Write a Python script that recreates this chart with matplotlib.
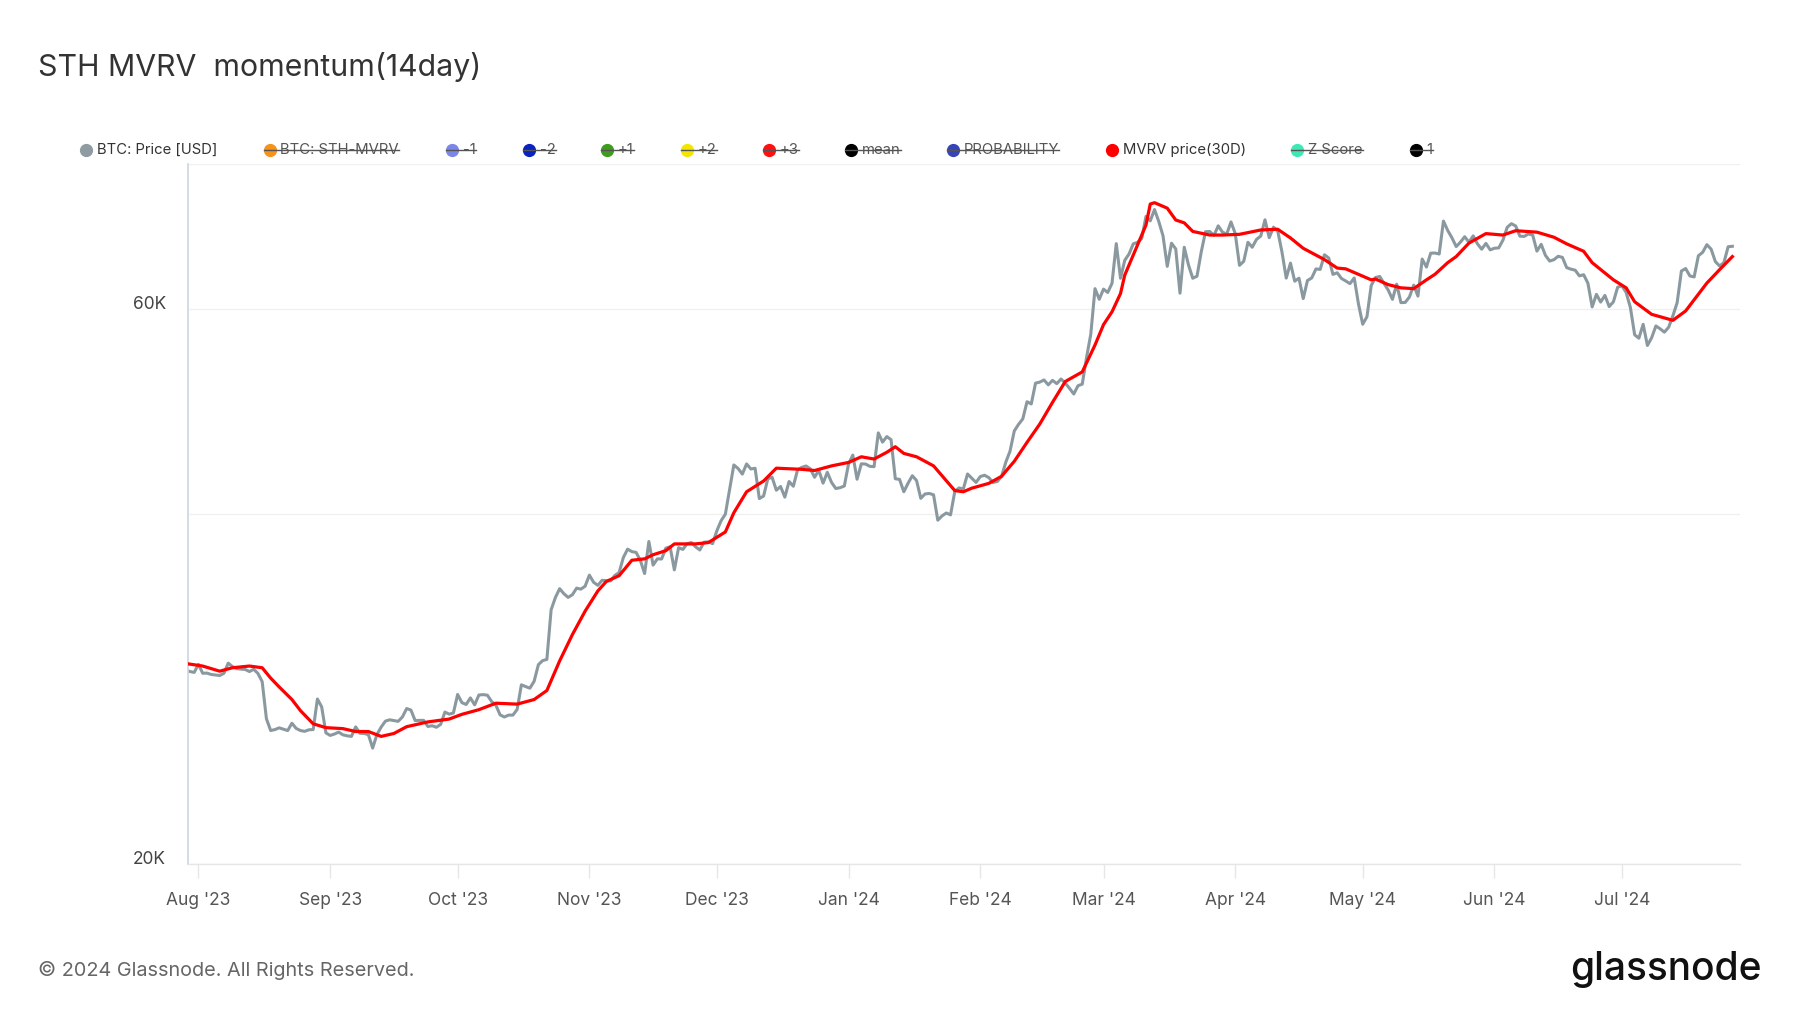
import matplotlib
matplotlib.use("Agg")
import matplotlib.pyplot as plt
import matplotlib.dates as mdates
from matplotlib.ticker import FixedLocator, FixedFormatter, NullLocator
from matplotlib.lines import Line2D
import pandas as pd

plt.rcParams['font.family'] = ['Inter', 'DejaVu Sans']

# ---------------- data (BTC price, thousands USD, daily) ----------------
price_jul23 = [29.35, 29.28, 29.23]
price_aug23 = [29.70, 29.18, 29.19, 29.11, 29.08, 29.05, 29.18, 29.77, 29.57, 29.45,
               29.42, 29.40, 29.28, 29.41, 29.17, 28.70, 26.66, 26.05, 26.10, 26.19,
               26.12, 26.05, 26.43, 26.16, 26.05, 26.01, 26.09, 26.10, 27.73, 27.30, 25.93]
price_sep23 = [25.80, 25.87, 25.97, 25.83, 25.78, 25.75, 26.24, 25.91, 25.90, 25.84,
               25.16, 25.84, 26.23, 26.54, 26.61, 26.57, 26.53, 26.76, 27.21, 27.13,
               26.57, 26.58, 26.58, 26.26, 26.30, 26.22, 26.37, 27.02, 26.91, 26.97]
price_oct23 = [27.98, 27.53, 27.43, 27.79, 27.41, 27.95, 27.97, 27.94, 27.59, 27.39,
               26.87, 26.76, 26.86, 26.86, 27.16, 28.52, 28.42, 28.33, 28.72, 29.68,
               29.92, 29.99, 33.09, 33.90, 34.50, 34.16, 33.91, 34.09, 34.54, 34.47, 34.67]
price_nov23 = [35.44, 34.94, 34.73, 35.08, 35.05, 35.04, 35.42, 35.62, 36.70, 37.31,
               37.13, 37.07, 36.49, 35.55, 37.88, 36.15, 36.60, 36.59, 37.39, 37.48,
               35.81, 37.42, 37.29, 37.72, 37.80, 37.48, 37.25, 37.83, 37.85, 37.72]
price_dec23 = [38.69, 39.47, 39.98, 41.98, 44.08, 43.77, 43.29, 44.17, 43.73, 43.79,
               41.24, 41.45, 42.89, 43.02, 41.93, 42.24, 41.36, 42.66, 42.26, 43.66,
               43.87, 43.99, 43.74, 43.02, 43.61, 42.52, 43.44, 42.58, 42.07, 42.14, 42.28]
price_jan24 = [44.18, 44.95, 42.85, 44.18, 44.16, 43.96, 43.93, 46.97, 46.12, 46.63,
               46.34, 42.89, 42.84, 41.80, 42.51, 43.15, 42.74, 41.26, 41.62, 41.66,
               41.55, 39.51, 39.85, 40.08, 39.93, 41.82, 42.12, 42.03, 43.30, 42.94, 42.58]
price_feb24 = [43.08, 43.19, 42.99, 42.58, 42.66, 43.08, 44.32, 45.30, 47.15, 47.77,
               48.29, 49.96, 49.74, 51.83, 51.94, 52.16, 51.66, 52.12, 51.78, 52.26,
               51.84, 51.30, 50.73, 51.57, 51.73, 54.52, 57.09, 62.50, 61.20]
price_mar24 = [62.44, 62.03, 63.17, 68.33, 63.80, 66.11, 66.93, 68.30, 68.50, 69.02,
               72.12, 71.48, 73.10, 71.40, 69.40, 65.32, 68.39, 67.61, 61.94, 67.84,
               65.50, 63.80, 64.06, 67.21, 69.96, 69.99, 69.46, 70.78, 69.89, 69.64, 71.33]
price_apr24 = [69.70, 65.45, 65.98, 68.51, 67.84, 68.90, 69.36, 71.63, 69.14, 70.59,
               70.06, 67.20, 63.82, 65.74, 63.43, 63.81, 61.28, 63.51, 63.84, 64.99,
               64.93, 66.84, 66.41, 64.29, 64.50, 63.77, 63.46, 63.12, 63.84, 60.64]
price_may24 = [58.25, 59.12, 62.89, 63.89, 64.03, 63.16, 62.33, 61.19, 63.05, 60.79,
               60.82, 61.48, 62.94, 61.58, 66.27, 65.23, 67.05, 67.07, 66.94, 71.45,
               70.14, 69.12, 67.93, 68.53, 69.27, 68.52, 69.39, 68.30, 67.58, 68.36, 67.49]
price_jun24 = [67.71, 67.75, 68.80, 70.57, 71.08, 70.76, 69.34, 69.31, 69.65, 69.51,
               67.32, 68.24, 66.76, 66.01, 66.19, 66.64, 66.49, 65.16, 64.96, 64.83,
               64.10, 64.25, 63.18, 60.28, 61.80, 60.86, 61.67, 60.32, 60.89, 62.68]
price_jul24 = [62.85, 62.03, 60.20, 57.04, 56.66, 58.24, 55.85, 56.71, 58.05, 57.72,
               57.34, 57.90, 59.23, 60.79, 64.72, 65.04, 64.09, 63.97, 66.71, 67.16,
               68.19, 67.58, 65.93, 65.37, 65.80, 67.91, 67.97]

price_k = (price_jul23 + price_aug23 + price_sep23 + price_oct23 + price_nov23 +
           price_dec23 + price_jan24 + price_feb24 + price_mar24 + price_apr24 +
           price_may24 + price_jun24 + price_jul24)
price_dates = pd.date_range('2023-07-29', periods=len(price_k), freq='D')

# MVRV price (30D) line, thousands USD
red_dates = ['2023-07-29', '2023-08-02', '2023-08-06', '2023-08-09', '2023-08-13', '2023-08-16',
             '2023-08-18', '2023-08-20', '2023-08-23', '2023-08-25', '2023-08-28', '2023-08-31',
             '2023-09-04', '2023-09-07', '2023-09-10', '2023-09-13', '2023-09-16', '2023-09-19',
             '2023-09-24', '2023-09-29', '2023-10-02', '2023-10-06', '2023-10-10', '2023-10-15',
             '2023-10-19', '2023-10-22', '2023-10-25', '2023-10-28', '2023-10-31', '2023-11-03',
             '2023-11-05', '2023-11-08', '2023-11-11', '2023-11-14', '2023-11-16', '2023-11-19',
             '2023-11-21', '2023-11-26', '2023-11-29', '2023-12-03', '2023-12-05', '2023-12-08',
             '2023-12-12', '2023-12-15', '2023-12-21', '2023-12-24', '2023-12-28', '2024-01-01',
             '2024-01-04', '2024-01-07', '2024-01-10', '2024-01-12', '2024-01-14', '2024-01-17',
             '2024-01-21', '2024-01-26', '2024-01-28', '2024-01-30', '2024-02-03', '2024-02-06',
             '2024-02-09', '2024-02-12', '2024-02-15', '2024-02-18', '2024-02-21', '2024-02-23',
             '2024-02-25', '2024-02-28', '2024-03-01', '2024-03-03', '2024-03-05', '2024-03-06',
             '2024-03-08', '2024-03-11', '2024-03-12', '2024-03-13', '2024-03-16', '2024-03-18',
             '2024-03-20', '2024-03-22', '2024-03-26', '2024-03-29', '2024-04-02', '2024-04-07',
             '2024-04-11', '2024-04-14', '2024-04-17', '2024-04-22', '2024-04-25', '2024-04-27',
             '2024-04-30', '2024-05-03', '2024-05-04', '2024-05-07', '2024-05-10', '2024-05-13',
             '2024-05-16', '2024-05-18', '2024-05-21', '2024-05-23', '2024-05-26', '2024-05-30',
             '2024-06-03', '2024-06-06', '2024-06-11', '2024-06-15', '2024-06-18', '2024-06-22',
             '2024-06-24', '2024-06-29', '2024-07-02', '2024-07-04', '2024-07-08', '2024-07-13',
             '2024-07-16', '2024-07-21', '2024-07-24', '2024-07-27']
red_k = [29.75, 29.6, 29.3, 29.5, 29.6, 29.5, 28.9, 28.4, 27.7, 27.1, 26.4, 26.2,
         26.15, 26.0, 26.0, 25.75, 25.9, 26.25, 26.5, 26.65, 26.9, 27.15, 27.5, 27.45,
         27.7, 28.2, 29.9, 31.5, 33.0, 34.35, 35.0, 35.4, 36.5, 36.6, 36.9, 37.2,
         37.7, 37.7, 37.8, 38.6, 40.1, 41.8, 42.7, 43.8, 43.7, 43.6, 44.0, 44.3,
         44.8, 44.6, 45.2, 45.7, 45.1, 44.8, 44.0, 41.9, 41.8, 42.1, 42.5, 43.1,
         44.4, 46.1, 47.8, 49.9, 52.0, 52.5, 53.0, 55.9, 58.2, 59.7, 61.9, 64.2,
         66.8, 70.9, 73.9, 74.1, 73.3, 71.6, 71.2, 70.0, 69.5, 69.5, 69.6, 70.2,
         70.3, 69.1, 67.7, 66.2, 65.1, 65.0, 64.3, 63.6, 63.7, 63.0, 62.6, 62.5,
         63.6, 64.3, 65.8, 66.6, 68.4, 69.7, 69.5, 70.1, 69.9, 69.2, 68.3, 67.3,
         65.8, 63.6, 62.6, 60.9, 59.4, 58.7, 59.8, 63.2, 64.9, 66.6]

y_ticks = [20000, 40000, 60000, 80000]
y_tick_labels = ['20K', '', '60K', '']

legend_labels = ['BTC: Price [USD]', 'BTC: STH-MVRV', '-1', '-2', '+1', '+2', '+3',
                 'mean', 'PROBABILITY', 'MVRV price(30D)', 'Z Score', '1']
legend_colors = ['#8e9ca2', '#f7931a', '#7b86e8', '#0a22c0', '#3f9c1f', '#f2e600',
                 '#ff1010', '#000000', '#3545b8', '#ff0000', '#3de8b4', '#000000']
legend_hidden = [False, True, True, True, True, True, True, True, True, False, True, True]

# ---------------- figure ----------------
W, H = 1800, 1013
fig = plt.figure(figsize=(W / 100, H / 100), dpi=100)
ax = fig.add_axes([188 / W, 1 - 864 / H, (1740 - 188) / W, (864 - 164) / H])

ax.plot(price_dates, [v * 1000 for v in price_k], color='#8a99a0', lw=2.2,
        solid_joinstyle='round', zorder=2)
ax.plot(pd.to_datetime(red_dates), [v * 1000 for v in red_k], color='#ff0000', lw=2.3,
        solid_joinstyle='round', zorder=3)

ax.set_yscale('log')
ax.set_ylim(20000, 80000)
ax.yaxis.set_major_locator(FixedLocator(y_ticks))
ax.yaxis.set_major_formatter(FixedFormatter(y_tick_labels))
ax.yaxis.set_minor_locator(NullLocator())
ax.grid(axis='y', color='#f0f0f0', lw=1.0)
ax.set_axisbelow(True)

ax.set_xlim(pd.Timestamp('2023-07-29 13:00'), pd.Timestamp('2024-07-28 19:00'))
ax.xaxis.set_major_locator(mdates.MonthLocator())
ax.xaxis.set_major_formatter(mdates.DateFormatter("%b '%y"))

for s in ['top', 'right']:
    ax.spines[s].set_visible(False)
ax.spines['left'].set_color('#ccd6e0')
ax.spines['left'].set_linewidth(1.2)
ax.spines['bottom'].set_color('#e6e6e6')
ax.spines['bottom'].set_linewidth(1.0)

ax.tick_params(axis='x', length=10, width=1, color='#e6e6e6', pad=10.5,
               labelsize=12.5, labelcolor='#555555')
ax.tick_params(axis='y', length=0, pad=16, labelsize=12.5, labelcolor='#444444')
for lbl in ax.get_yticklabels():
    lbl.set_verticalalignment('baseline')

# title
fig.text(38 / W, 1 - 66.5 / H, 'STH MVRV  momentum(14day)', fontsize=21.8,
         color='#333333', va='center', ha='left')

# legend
leg_x = [86, 269.5, 452, 529, 607, 687, 769, 851, 952.7, 1112, 1297.3, 1415.6]
leg_y = 150
texts = []
for x, lab, col, hid in zip(leg_x, legend_labels, legend_colors, legend_hidden):
    fig.add_artist(Line2D([x / W], [1 - leg_y / H], marker='o', ms=8.5, color=col,
                          mec=col, lw=0, transform=fig.transFigure, zorder=5))
    t = fig.text((x + 11) / W, 1 - leg_y / H, lab, fontsize=10.7,
                 color='#555555' if hid else '#333333', va='center', ha='left')
    texts.append((t, x, hid))

fig.canvas.draw()
renderer = fig.canvas.get_renderer()
for t, x, hid in texts:
    if hid:
        bb = t.get_window_extent(renderer)
        fig.add_artist(Line2D([(x - 6) / W, bb.x1 / W], [1 - leg_y / H, 1 - leg_y / H],
                              color='#555555', lw=1.0, transform=fig.transFigure, zorder=6))

# footer
fig.text(38 / W, 1 - 970 / H, '\u00a9 2024 Glassnode. All Rights Reserved.', fontsize=14.3,
         color='#666666', va='center', ha='left')
fig.text(1762 / W, 1 - 969 / H, 'glassnode', fontsize=28, color='#111111',
         va='center', ha='right', fontweight='medium')

fig.savefig('out.png', dpi=100)
